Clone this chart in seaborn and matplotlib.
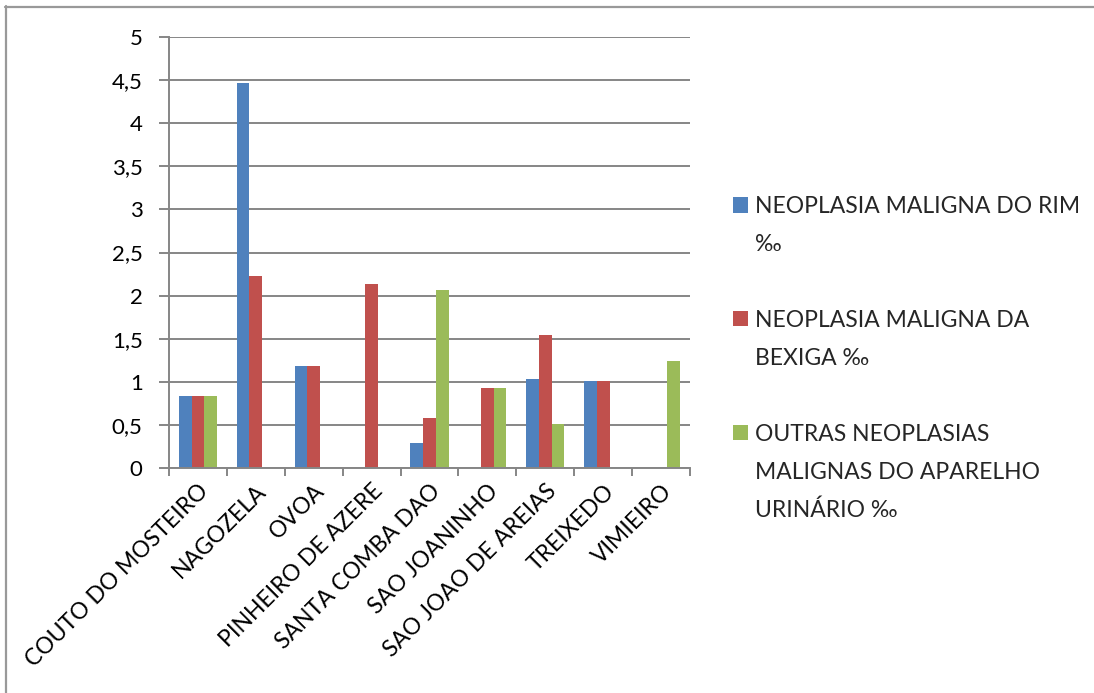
import matplotlib
matplotlib.use("Agg")
import matplotlib.pyplot as plt
from matplotlib.lines import Line2D
from matplotlib.patches import Rectangle
from matplotlib.ticker import FixedLocator, FuncFormatter
import seaborn as sns
import pandas as pd

# Freguesias
categories = ["COUTO DO MOSTEIRO", "NAGOZELA", "OVOA", "PINHEIRO DE AZERE",
              "SANTA COMBA DAO", "SAO JOANINHO", "SAO JOAO DE AREIAS",
              "TREIXEDO", "VIMIEIRO"]

# Taxas por mil habitantes
rim = [0.83, 4.47, 1.18, 0.0, 0.29, 0.0, 1.03, 1.01, 0.0]
bexiga = [0.83, 2.23, 1.18, 2.13, 0.58, 0.93, 1.54, 1.01, 0.0]
outras = [0.83, 0.0, 0.0, 0.0, 2.06, 0.93, 0.51, 0.0, 1.24]

series_names = ["NEOPLASIA MALIGNA DO RIM ‰",
                "NEOPLASIA MALIGNA DA BEXIGA ‰",
                "OUTRAS NEOPLASIAS MALIGNAS DO APARELHO URINÁRIO ‰"]
# legend text, wrapped line by line
legend_lines = [["NEOPLASIA MALIGNA DO RIM", "‰"],
                ["NEOPLASIA MALIGNA DA", "BEXIGA ‰"],
                ["OUTRAS NEOPLASIAS", "MALIGNAS DO APARELHO", "URINÁRIO ‰"]]
colors = ["#4F81BD", "#C0504D", "#9BBB59"]
y_ticks = [0, 0.5, 1, 1.5, 2, 2.5, 3, 3.5, 4, 4.5, 5]

df = pd.DataFrame({
    "freguesia": categories * 3,
    "serie": [series_names[0]] * 9 + [series_names[1]] * 9 + [series_names[2]] * 9,
    "valor": rim + bexiga + outras,
})

sns.set_theme(style="white")
plt.rcParams["font.family"] = ["Lato", "DejaVu Sans"]

fig = plt.figure(figsize=(10.94, 6.93), dpi=100)
ax = fig.add_axes([169 / 1094, 1 - 468 / 693, (690 - 169) / 1094, (468 - 37) / 693])

sns.barplot(data=df, x="freguesia", y="valor", hue="serie", order=categories,
            hue_order=series_names, palette=colors, width=0.66, gap=0,
            linewidth=0, saturation=1, ax=ax, legend=False)

grid_c = "#868686"
ax.set_ylim(0, 5)
ax.set_xlim(-0.5, len(categories) - 0.5)
ax.set_yticks(y_ticks)
ax.yaxis.set_major_formatter(FuncFormatter(lambda v, p: f"{v:g}".replace(".", ",")))
ax.yaxis.grid(True, color=grid_c, linewidth=1.4)
ax.set_axisbelow(True)
for s in ["top", "right"]:
    ax.spines[s].set_visible(False)
for s in ["left", "bottom"]:
    ax.spines[s].set_color(grid_c)
    ax.spines[s].set_linewidth(1.4)
ax.tick_params(axis="y", which="major", length=7, width=1.4, color=grid_c,
               direction="out", labelsize=16, pad=12, left=True,
               labelcolor="black")
ax.tick_params(axis="x", which="major", length=0, labelsize=16.5, pad=9,
               labelcolor="black")
ax.xaxis.set_minor_locator(FixedLocator([i - 0.5 for i in range(len(categories) + 1)]))
ax.tick_params(axis="x", which="minor", length=6, width=1.4, color=grid_c,
               direction="out", bottom=True)
plt.setp(ax.get_xticklabels(), rotation=45, ha="right", rotation_mode="anchor")
ax.set_xlabel("")
ax.set_ylabel("")

# one legend row per text line, a blank row between series
handles, labels = [], []
for k, (col, lines) in enumerate(zip(colors, legend_lines)):
    for j, line in enumerate(lines):
        if j == 0:
            handles.append(Rectangle((0, 0), 1, 1, facecolor=col, edgecolor="none"))
        else:
            handles.append(Rectangle((0, 0), 1, 1, facecolor="none", edgecolor="none"))
        labels.append(line)
    if k < len(legend_lines) - 1:
        handles.append(Rectangle((0, 0), 1, 1, facecolor="none", edgecolor="none"))
        labels.append(" ")

fig.legend(handles, labels, loc="upper left",
           bbox_to_anchor=(733 / 1094, 1 - 196 / 693),
           frameon=False, fontsize=16.5, handlelength=0.65, handleheight=0.65,
           handletextpad=0.3, labelspacing=0.74, borderpad=0, borderaxespad=0)

# chart area outline (top and left edges)
fig.add_artist(Line2D([5 / 1094, 1.0], [1 - 6.5 / 693, 1 - 6.5 / 693],
                      transform=fig.transFigure, color="#999999", linewidth=1.6))
fig.add_artist(Line2D([5.5 / 1094, 5.5 / 1094], [0.0, 1 - 6 / 693],
                      transform=fig.transFigure, color="#999999", linewidth=1.6))

fig.savefig("out.png", dpi=100)
